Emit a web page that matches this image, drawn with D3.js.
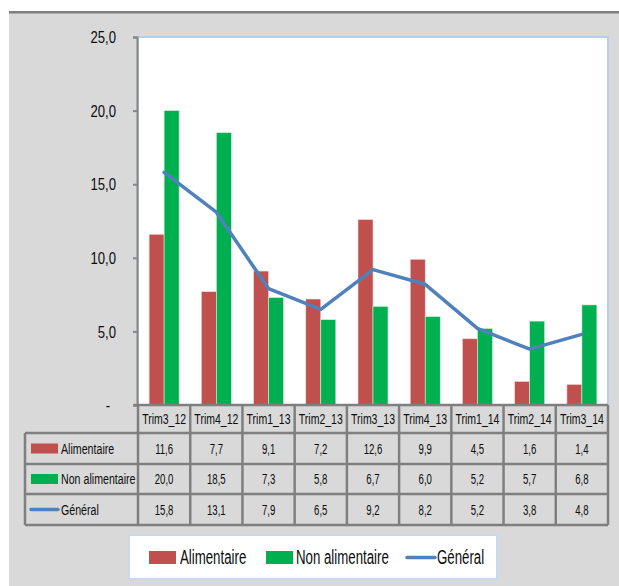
<!DOCTYPE html>
<html><head><meta charset="utf-8">
<script src="https://cdn.jsdelivr.net/npm/d3@7"></script>
<style>
html,body{margin:0;padding:0;background:#fff;}
text{font-family:"Liberation Sans",Arial,sans-serif;fill:#0d0d0d;}
</style></head>
<body><svg id="c" width="619" height="586"></svg>
<script>
const categories = ["Trim3_12","Trim4_12","Trim1_13","Trim2_13","Trim3_13","Trim4_13","Trim1_14","Trim2_14","Trim3_14"];
const alimentaire = [11.6,7.7,9.1,7.2,12.6,9.9,4.5,1.6,1.4];
const nonAlimentaire = [20.0,18.5,7.3,5.8,6.7,6.0,5.2,5.7,6.8];
const general = [15.8,13.1,7.9,6.5,9.2,8.2,5.2,3.8,4.8];
const yTicks = [0,5,10,15,20,25];
const seriesNames = ["Alimentaire","Non alimentaire","Général"];
const colors = ["#c0504d","#00b050","#4f81bd"];

const svg = d3.select("#c");
const fmt = v => v === 0 ? "-" : v.toFixed(1).replace(".", ",");
// condensed text: horizontal scale
function ctext(parent, xPos, yPos, k, str, size, anchor){
  return parent.append("text")
    .attr("transform", `translate(${xPos},${yPos}) scale(${k},1)`)
    .attr("dy","0.35em").attr("text-anchor", anchor || "start")
    .attr("font-size", size).text(str);
}

// background
svg.append("rect").attr("x",9).attr("y",13).attr("width",610).attr("height",573).attr("fill","#d9d9d9");
svg.append("rect").attr("x",9).attr("y",11).attr("width",610).attr("height",2.5).attr("fill","#7f7f7f");

const L = 138, R = 608, T = 37, B = 405;
const x = d3.scaleBand().domain(categories).range([L, R]).padding(0);
const y = d3.scaleLinear().domain([0,25]).range([B, T]);

// plot area
svg.append("rect").attr("x",L).attr("y",T).attr("width",R-L).attr("height",B-T)
  .attr("fill","#fff").attr("stroke","#b9cde5").attr("stroke-width",2);

// bars
const barW = 15;
const bars = svg.append("g");
categories.forEach((c,i) => {
  const cx = x(c) + x.bandwidth()/2;
  bars.append("rect").attr("x", cx - barW).attr("width", barW)
    .attr("y", y(alimentaire[i])).attr("height", y(0)-y(alimentaire[i]))
    .attr("fill", colors[0]).attr("stroke","#f2dcdb").attr("stroke-width",0.6);
  bars.append("rect").attr("x", cx).attr("width", barW)
    .attr("y", y(nonAlimentaire[i])).attr("height", y(0)-y(nonAlimentaire[i]))
    .attr("fill", colors[1]).attr("stroke","#d7f0df").attr("stroke-width",0.6);
});

// line
const line = d3.line().x((d,i)=>x(categories[i])+x.bandwidth()/2).y(d=>y(d));
svg.append("path").datum(general).attr("d", line).attr("fill","none")
  .attr("stroke", colors[2]).attr("stroke-width",3.5).attr("stroke-linecap","round").attr("stroke-linejoin","round");

// y axis
const yAxis = d3.axisLeft(y).tickValues(yTicks).tickSize(4).tickFormat(fmt);
const ga = svg.append("g").attr("transform",`translate(${L-1},0)`).call(yAxis);
ga.select(".domain").attr("stroke","#868686").attr("stroke-width",2);
ga.selectAll(".tick line").attr("stroke","#868686").attr("stroke-width",2);
ga.selectAll(".tick text").attr("font-size",16).attr("font-family",null).attr("fill","#0d0d0d")
  .attr("x",null).attr("dy","0.35em")
  .attr("transform", d => `translate(${d===0 ? -27 : -21},0) scale(0.82,1)`);

// table
const tL = 25;
const rowsY = [405, 433, 464, 494, 525];
const tg = svg.append("g");
const lineC = "#7f7f7f";
const fs = 15;
categories.forEach((c) => {
  ctext(tg, x(c)+x.bandwidth()/2, (rowsY[0]+rowsY[1])/2, 0.70, c, fs, "middle");
});
const rowData = [alimentaire, nonAlimentaire, general];
rowData.forEach((arr, r) => {
  const cy = (rowsY[r+1]+rowsY[r+2])/2;
  arr.forEach((v,i) => {
    ctext(tg, x(categories[i])+x.bandwidth()/2, cy, 0.64, fmt(v), fs, "middle");
  });
  if (r < 2) {
    tg.append("rect").attr("x",31).attr("y",cy-5).attr("width",27).attr("height",10).attr("fill",colors[r]);
  } else {
    tg.append("line").attr("x1",31).attr("x2",58).attr("y1",cy).attr("y2",cy)
      .attr("stroke",colors[2]).attr("stroke-width",3.5).attr("stroke-linecap","round");
  }
  ctext(tg, 61, cy, 0.71, seriesNames[r], fs, "start");
});
// grid lines
tg.append("line").attr("x1",L-4).attr("x2",R).attr("y1",rowsY[0]).attr("y2",rowsY[0]).attr("stroke",lineC).attr("stroke-width",2.5);
for (let k=1;k<rowsY.length;k++){
  tg.append("line").attr("x1",tL).attr("x2",R).attr("y1",rowsY[k]).attr("y2",rowsY[k])
    .attr("stroke",lineC).attr("stroke-width",2.5);
}
categories.forEach((c)=>{
  tg.append("line").attr("x1",x(c)).attr("x2",x(c)).attr("y1",rowsY[0]).attr("y2",rowsY[4]).attr("stroke",lineC).attr("stroke-width",2.5);
});
tg.append("line").attr("x1",R).attr("x2",R).attr("y1",rowsY[0]).attr("y2",rowsY[4]).attr("stroke",lineC).attr("stroke-width",2.5);
tg.append("line").attr("x1",tL).attr("x2",tL).attr("y1",rowsY[1]).attr("y2",rowsY[4]).attr("stroke",lineC).attr("stroke-width",2.5);

// legend
const lg = svg.append("g");
lg.append("rect").attr("x",129).attr("y",535).attr("width",368).attr("height",44)
  .attr("fill","#fff").attr("stroke","#c6d9f1").attr("stroke-width",2);
const ly = 557.5;
const items = [{sx:149, tx:180},{sx:266, tx:296},{sx:407, tx:437}];
items.forEach((it, k) => {
  if (k < 2) {
    lg.append("rect").attr("x",it.sx).attr("y",ly-6.5).attr("width",27).attr("height",13).attr("fill",colors[k]);
  } else {
    lg.append("line").attr("x1",it.sx).attr("x2",it.sx+28).attr("y1",ly).attr("y2",ly)
      .attr("stroke",colors[2]).attr("stroke-width",3.5).attr("stroke-linecap","round");
  }
  ctext(lg, it.tx, ly, 0.68, seriesNames[k], 19.5, "start");
});
</script></body></html>
